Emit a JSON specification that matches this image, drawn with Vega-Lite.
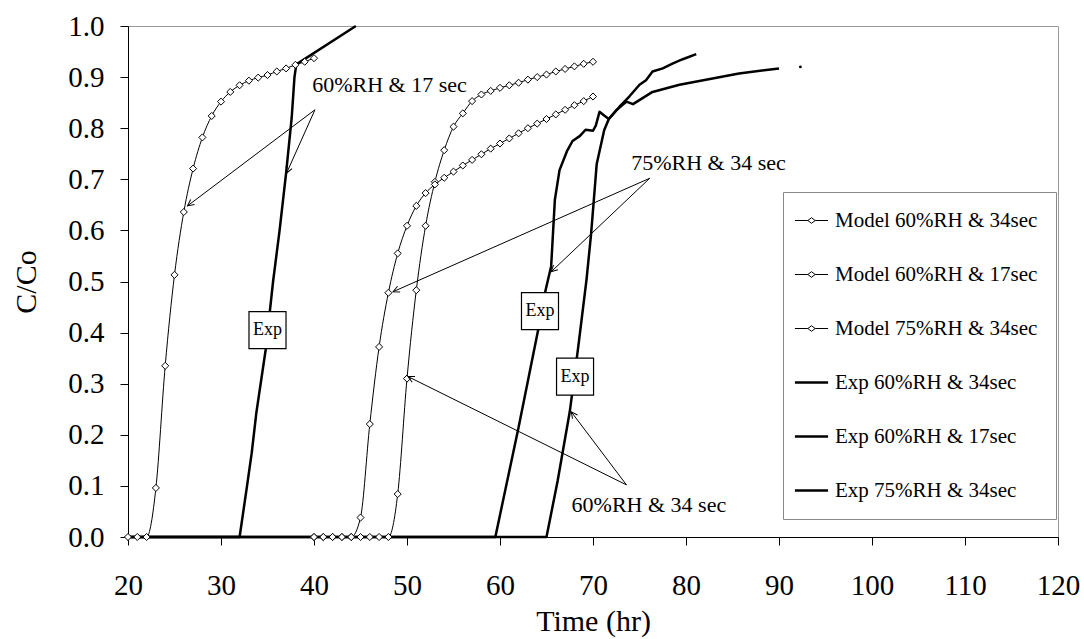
{
  "$schema": "https://vega.github.io/schema/vega-lite/v6.json",
  "width": 930,
  "height": 511,
  "autosize": "none",
  "padding": {"left": 128, "top": 26, "right": 26, "bottom": 102},
  "background": "white",
  "config": {
    "font": "Liberation Serif",
    "view": {"stroke": "#999", "strokeWidth": 1},
    "axis": {"grid": false, "domainColor": "black", "tickColor": "black", "labelColor": "black", "titleColor": "black", "labelFontWeight": "normal", "titleFontWeight": "normal", "labelFont": "Liberation Serif", "titleFont": "Liberation Serif"}
  },
  "datasets": {
    "curves": [
      {"series": "Model 60%RH & 17sec", "time": 20, "c": 0},
      {"series": "Model 60%RH & 17sec", "time": 21, "c": 0},
      {"series": "Model 60%RH & 17sec", "time": 22, "c": 0},
      {"series": "Model 60%RH & 17sec", "time": 23, "c": 0.096},
      {"series": "Model 60%RH & 17sec", "time": 24, "c": 0.335},
      {"series": "Model 60%RH & 17sec", "time": 25, "c": 0.513},
      {"series": "Model 60%RH & 17sec", "time": 26, "c": 0.636},
      {"series": "Model 60%RH & 17sec", "time": 27, "c": 0.721},
      {"series": "Model 60%RH & 17sec", "time": 28, "c": 0.782},
      {"series": "Model 60%RH & 17sec", "time": 29, "c": 0.824},
      {"series": "Model 60%RH & 17sec", "time": 30, "c": 0.852},
      {"series": "Model 60%RH & 17sec", "time": 31, "c": 0.871},
      {"series": "Model 60%RH & 17sec", "time": 32, "c": 0.884},
      {"series": "Model 60%RH & 17sec", "time": 33, "c": 0.893},
      {"series": "Model 60%RH & 17sec", "time": 34, "c": 0.899},
      {"series": "Model 60%RH & 17sec", "time": 35, "c": 0.904},
      {"series": "Model 60%RH & 17sec", "time": 36, "c": 0.911},
      {"series": "Model 60%RH & 17sec", "time": 37, "c": 0.917},
      {"series": "Model 60%RH & 17sec", "time": 38, "c": 0.924},
      {"series": "Model 60%RH & 17sec", "time": 39, "c": 0.93},
      {"series": "Model 60%RH & 17sec", "time": 40, "c": 0.937},

      {"series": "Model 60%RH & 34sec", "time": 40, "c": 0},
      {"series": "Model 60%RH & 34sec", "time": 41, "c": 0},
      {"series": "Model 60%RH & 34sec", "time": 42, "c": 0},
      {"series": "Model 60%RH & 34sec", "time": 43, "c": 0},
      {"series": "Model 60%RH & 34sec", "time": 44, "c": 0},
      {"series": "Model 60%RH & 34sec", "time": 45, "c": 0},
      {"series": "Model 60%RH & 34sec", "time": 46, "c": 0},
      {"series": "Model 60%RH & 34sec", "time": 47, "c": 0},
      {"series": "Model 60%RH & 34sec", "time": 48, "c": 0},
      {"series": "Model 60%RH & 34sec", "time": 49, "c": 0.084},
      {"series": "Model 60%RH & 34sec", "time": 50, "c": 0.31},
      {"series": "Model 60%RH & 34sec", "time": 51, "c": 0.483},
      {"series": "Model 60%RH & 34sec", "time": 52, "c": 0.609},
      {"series": "Model 60%RH & 34sec", "time": 53, "c": 0.695},
      {"series": "Model 60%RH & 34sec", "time": 54, "c": 0.757},
      {"series": "Model 60%RH & 34sec", "time": 55, "c": 0.803},
      {"series": "Model 60%RH & 34sec", "time": 56, "c": 0.829},
      {"series": "Model 60%RH & 34sec", "time": 57, "c": 0.853},
      {"series": "Model 60%RH & 34sec", "time": 58, "c": 0.866},
      {"series": "Model 60%RH & 34sec", "time": 59, "c": 0.873},
      {"series": "Model 60%RH & 34sec", "time": 60, "c": 0.879},
      {"series": "Model 60%RH & 34sec", "time": 61, "c": 0.884},
      {"series": "Model 60%RH & 34sec", "time": 62, "c": 0.889},
      {"series": "Model 60%RH & 34sec", "time": 63, "c": 0.895},
      {"series": "Model 60%RH & 34sec", "time": 64, "c": 0.9},
      {"series": "Model 60%RH & 34sec", "time": 65, "c": 0.905},
      {"series": "Model 60%RH & 34sec", "time": 66, "c": 0.911},
      {"series": "Model 60%RH & 34sec", "time": 67, "c": 0.916},
      {"series": "Model 60%RH & 34sec", "time": 68, "c": 0.921},
      {"series": "Model 60%RH & 34sec", "time": 69, "c": 0.926},
      {"series": "Model 60%RH & 34sec", "time": 70, "c": 0.93},

      {"series": "Model 75%RH & 34sec", "time": 40, "c": 0},
      {"series": "Model 75%RH & 34sec", "time": 41, "c": 0},
      {"series": "Model 75%RH & 34sec", "time": 42, "c": 0},
      {"series": "Model 75%RH & 34sec", "time": 43, "c": 0},
      {"series": "Model 75%RH & 34sec", "time": 44, "c": 0},
      {"series": "Model 75%RH & 34sec", "time": 45, "c": 0.038},
      {"series": "Model 75%RH & 34sec", "time": 46, "c": 0.221},
      {"series": "Model 75%RH & 34sec", "time": 47, "c": 0.372},
      {"series": "Model 75%RH & 34sec", "time": 48, "c": 0.478},
      {"series": "Model 75%RH & 34sec", "time": 49, "c": 0.555},
      {"series": "Model 75%RH & 34sec", "time": 50, "c": 0.609},
      {"series": "Model 75%RH & 34sec", "time": 51, "c": 0.648},
      {"series": "Model 75%RH & 34sec", "time": 52, "c": 0.673},
      {"series": "Model 75%RH & 34sec", "time": 53, "c": 0.69},
      {"series": "Model 75%RH & 34sec", "time": 54, "c": 0.703},
      {"series": "Model 75%RH & 34sec", "time": 55, "c": 0.715},
      {"series": "Model 75%RH & 34sec", "time": 56, "c": 0.727},
      {"series": "Model 75%RH & 34sec", "time": 57, "c": 0.738},
      {"series": "Model 75%RH & 34sec", "time": 58, "c": 0.749},
      {"series": "Model 75%RH & 34sec", "time": 59, "c": 0.76},
      {"series": "Model 75%RH & 34sec", "time": 60, "c": 0.77},
      {"series": "Model 75%RH & 34sec", "time": 61, "c": 0.78},
      {"series": "Model 75%RH & 34sec", "time": 62, "c": 0.79},
      {"series": "Model 75%RH & 34sec", "time": 63, "c": 0.8},
      {"series": "Model 75%RH & 34sec", "time": 64, "c": 0.809},
      {"series": "Model 75%RH & 34sec", "time": 65, "c": 0.818},
      {"series": "Model 75%RH & 34sec", "time": 66, "c": 0.827},
      {"series": "Model 75%RH & 34sec", "time": 67, "c": 0.836},
      {"series": "Model 75%RH & 34sec", "time": 68, "c": 0.845},
      {"series": "Model 75%RH & 34sec", "time": 69, "c": 0.853},
      {"series": "Model 75%RH & 34sec", "time": 70, "c": 0.862},

      {"series": "Exp 60%RH & 17sec", "time": 20, "c": 0},
      {"series": "Exp 60%RH & 17sec", "time": 32, "c": 0},
      {"series": "Exp 60%RH & 17sec", "time": 32.8, "c": 0.1},
      {"series": "Exp 60%RH & 17sec", "time": 33.3, "c": 0.164},
      {"series": "Exp 60%RH & 17sec", "time": 33.8, "c": 0.243},
      {"series": "Exp 60%RH & 17sec", "time": 34.8, "c": 0.366},
      {"series": "Exp 60%RH & 17sec", "time": 35.6, "c": 0.5},
      {"series": "Exp 60%RH & 17sec", "time": 36.3, "c": 0.6},
      {"series": "Exp 60%RH & 17sec", "time": 37.0, "c": 0.712},
      {"series": "Exp 60%RH & 17sec", "time": 37.6, "c": 0.82},
      {"series": "Exp 60%RH & 17sec", "time": 37.9, "c": 0.9},
      {"series": "Exp 60%RH & 17sec", "time": 38.1, "c": 0.925},
      {"series": "Exp 60%RH & 17sec", "time": 44.5, "c": 1.0},

      {"series": "Exp 60%RH & 34sec", "time": 20, "c": 0},
      {"series": "Exp 60%RH & 34sec", "time": 65, "c": 0},
      {"series": "Exp 60%RH & 34sec", "time": 66.2, "c": 0.11},
      {"series": "Exp 60%RH & 34sec", "time": 67.5, "c": 0.245},
      {"series": "Exp 60%RH & 34sec", "time": 68.4, "c": 0.37},
      {"series": "Exp 60%RH & 34sec", "time": 69.3, "c": 0.503},
      {"series": "Exp 60%RH & 34sec", "time": 69.8, "c": 0.594},
      {"series": "Exp 60%RH & 34sec", "time": 70.4, "c": 0.73},
      {"series": "Exp 60%RH & 34sec", "time": 71.2, "c": 0.796},
      {"series": "Exp 60%RH & 34sec", "time": 71.7, "c": 0.818},
      {"series": "Exp 60%RH & 34sec", "time": 72.85, "c": 0.842},
      {"series": "Exp 60%RH & 34sec", "time": 73.9, "c": 0.862},
      {"series": "Exp 60%RH & 34sec", "time": 75.0, "c": 0.885},
      {"series": "Exp 60%RH & 34sec", "time": 75.7, "c": 0.894},
      {"series": "Exp 60%RH & 34sec", "time": 76.4, "c": 0.911},
      {"series": "Exp 60%RH & 34sec", "time": 77.5, "c": 0.917},
      {"series": "Exp 60%RH & 34sec", "time": 78.6, "c": 0.927},
      {"series": "Exp 60%RH & 34sec", "time": 79.65, "c": 0.935},
      {"series": "Exp 60%RH & 34sec", "time": 81.1, "c": 0.945},

      {"series": "Exp 75%RH & 34sec", "time": 20, "c": 0},
      {"series": "Exp 75%RH & 34sec", "time": 59.5, "c": 0},
      {"series": "Exp 75%RH & 34sec", "time": 62.0, "c": 0.215},
      {"series": "Exp 75%RH & 34sec", "time": 64.1, "c": 0.405},
      {"series": "Exp 75%RH & 34sec", "time": 64.9, "c": 0.483},
      {"series": "Exp 75%RH & 34sec", "time": 65.5, "c": 0.53},
      {"series": "Exp 75%RH & 34sec", "time": 65.9, "c": 0.66},
      {"series": "Exp 75%RH & 34sec", "time": 66.4, "c": 0.718},
      {"series": "Exp 75%RH & 34sec", "time": 67.2, "c": 0.755},
      {"series": "Exp 75%RH & 34sec", "time": 67.8, "c": 0.775},
      {"series": "Exp 75%RH & 34sec", "time": 68.6, "c": 0.785},
      {"series": "Exp 75%RH & 34sec", "time": 69.2, "c": 0.797},
      {"series": "Exp 75%RH & 34sec", "time": 70.0, "c": 0.795},
      {"series": "Exp 75%RH & 34sec", "time": 70.3, "c": 0.805},
      {"series": "Exp 75%RH & 34sec", "time": 70.7, "c": 0.832},
      {"series": "Exp 75%RH & 34sec", "time": 71.2, "c": 0.825},
      {"series": "Exp 75%RH & 34sec", "time": 71.7, "c": 0.818},
      {"series": "Exp 75%RH & 34sec", "time": 72.5, "c": 0.835},
      {"series": "Exp 75%RH & 34sec", "time": 73.6, "c": 0.852},
      {"series": "Exp 75%RH & 34sec", "time": 74.3, "c": 0.847},
      {"series": "Exp 75%RH & 34sec", "time": 76.4, "c": 0.871},
      {"series": "Exp 75%RH & 34sec", "time": 79.3, "c": 0.885},
      {"series": "Exp 75%RH & 34sec", "time": 85.7, "c": 0.907},
      {"series": "Exp 75%RH & 34sec", "time": 90.0, "c": 0.917}
    ],
    "stray": [{"time": 92.3, "c": 0.92}],
    "arrows": [
      {"x": 40.1, "y": 0.836, "x2": 26.4, "y2": 0.648},
      {"x": 40.1, "y": 0.836, "x2": 37.05, "y2": 0.712},
      {"x": 76.1, "y": 0.702, "x2": 48.5, "y2": 0.48},
      {"x": 76.1, "y": 0.702, "x2": 65.5, "y2": 0.519},
      {"x": 73.6, "y": 0.102, "x2": 50.1, "y2": 0.314},
      {"x": 73.6, "y": 0.102, "x2": 67.66, "y2": 0.245}
    ],
    "labels": [
      {"x": 39.8, "y": 0.885, "text": "60%RH & 17 sec"},
      {"x": 74.1, "y": 0.732, "text": "75%RH & 34 sec"},
      {"x": 67.7, "y": 0.063, "text": "60%RH & 34 sec"}
    ],
    "boxes": [
      {"x": 35.0, "y": 0.405, "text": "Exp"},
      {"x": 64.3, "y": 0.442, "text": "Exp"},
      {"x": 68.07, "y": 0.314, "text": "Exp"}
    ]
  },
  "layer": [
    {
      "data": {"name": "curves"},
      "transform": [{"filter": "indexof(datum.series, 'Model') === 0"}],
      "mark": {"type": "line", "interpolate": "monotone", "strokeWidth": 1},
      "encoding": {
        "x": {"field": "time", "type": "quantitative", "scale": {"domain": [20, 120], "nice": false}, "axis": {"values": [20, 30, 40, 50, 60, 70, 80, 90, 100, 110, 120], "title": "Time (hr)", "labelFontSize": 29, "titleFontSize": 30, "tickSize": 8, "labelPadding": 26, "titleY": 84, "titleBaseline": "middle", "labelFlush": false}},
        "y": {"field": "c", "type": "quantitative", "scale": {"domain": [0, 1], "nice": false}, "axis": {"values": [0, 0.1, 0.2, 0.3, 0.4, 0.5, 0.6, 0.7, 0.8, 0.9, 1.0], "format": ".1f", "title": "C/Co", "labelFontSize": 29, "titleFontSize": 30, "tickSize": 8, "labelPadding": 16, "titleX": -102, "titleBaseline": "middle", "labelFlush": false}},
        "color": {
          "field": "series", "type": "nominal",
          "scale": {"domain": ["Model 60%RH & 34sec", "Model 60%RH & 17sec", "Model 75%RH & 34sec", "Exp 60%RH & 34sec", "Exp 60%RH & 17sec", "Exp 75%RH & 34sec"], "range": ["black", "black", "black", "black", "black", "black"]},
          "legend": {
            "orient": "none", "legendX": 655, "legendY": 166, "title": null,
            "strokeColor": "#888", "fillColor": "white", "padding": 18,
            "labelFont": "Liberation Serif", "labelFontSize": 21, "labelColor": "black", "labelLimit": 400,
            "symbolSize": 1100, "symbolType": "stroke", "symbolStrokeWidth": 2.5, "labelOffset": 13, "rowPadding": 32,
            "encode": {"symbols": {"update": {
              "shape": {"signal": "test(/^Model/, datum.label) ? 'M-1,0L-0.22,0M0.22,0L1,0M-0.22,0L0,-0.17L0.22,0L0,0.17Z' : 'M-1,0L1,0'"},
              "strokeWidth": {"signal": "test(/^Model/, datum.label) ? 1 : 2.5"},
              "fill": {"value": "white"},
              "stroke": {"value": "black"}
            }}}
          }
        }
      }
    },
    {
      "data": {"name": "curves"},
      "transform": [{"filter": "indexof(datum.series, 'Exp') === 0"}],
      "mark": {"type": "line", "strokeWidth": 2.5, "strokeJoin": "round"},
      "encoding": {
        "x": {"field": "time", "type": "quantitative"},
        "y": {"field": "c", "type": "quantitative"},
        "color": {"field": "series", "type": "nominal"}
      }
    },
    {
      "data": {"name": "curves"},
      "transform": [{"filter": "indexof(datum.series, 'Model') === 0"}],
      "mark": {"type": "point", "shape": "diamond", "filled": true, "fill": "white", "stroke": "black", "strokeWidth": 1, "size": 50, "opacity": 1},
      "encoding": {
        "x": {"field": "time", "type": "quantitative"},
        "y": {"field": "c", "type": "quantitative"}
      }
    },
    {
      "data": {"name": "stray"},
      "mark": {"type": "point", "filled": true, "color": "black", "size": 8, "opacity": 1},
      "encoding": {
        "x": {"field": "time", "type": "quantitative"},
        "y": {"field": "c", "type": "quantitative"}
      }
    },
    {
      "data": {"name": "arrows"},
      "mark": {"type": "rule", "color": "black", "strokeWidth": 1},
      "encoding": {
        "x": {"field": "x", "type": "quantitative"},
        "y": {"field": "y", "type": "quantitative"},
        "x2": {"field": "x2"},
        "y2": {"field": "y2"}
      }
    },
    {
      "data": {"name": "arrows"},
      "transform": [{"calculate": "atan2(-(datum.y2 - datum.y) * 511, (datum.x2 - datum.x) * 9.3) * 180 / PI", "as": "ang"}],
      "mark": {"type": "point", "shape": "M-1,-0.5L0,0L-1,0.5", "filled": false, "stroke": "black", "strokeWidth": 1, "size": 160, "opacity": 1},
      "encoding": {
        "x": {"field": "x2", "type": "quantitative"},
        "y": {"field": "y2", "type": "quantitative"},
        "angle": {"field": "ang", "type": "quantitative", "scale": null}
      }
    },
    {
      "data": {"name": "labels"},
      "mark": {"type": "text", "align": "left", "baseline": "middle", "fontSize": 22, "color": "black", "font": "Liberation Serif"},
      "encoding": {
        "x": {"field": "x", "type": "quantitative"},
        "y": {"field": "y", "type": "quantitative"},
        "text": {"field": "text"}
      }
    },
    {
      "data": {"name": "boxes"},
      "mark": {"type": "point", "shape": "square", "filled": true, "fill": "white", "stroke": "black", "strokeWidth": 1.2, "size": 1370, "opacity": 1},
      "encoding": {
        "x": {"field": "x", "type": "quantitative"},
        "y": {"field": "y", "type": "quantitative"}
      }
    },
    {
      "data": {"name": "boxes"},
      "mark": {"type": "text", "align": "center", "baseline": "middle", "fontSize": 18, "color": "black", "font": "Liberation Serif"},
      "encoding": {
        "x": {"field": "x", "type": "quantitative"},
        "y": {"field": "y", "type": "quantitative"},
        "text": {"field": "text"}
      }
    }
  ]
}
